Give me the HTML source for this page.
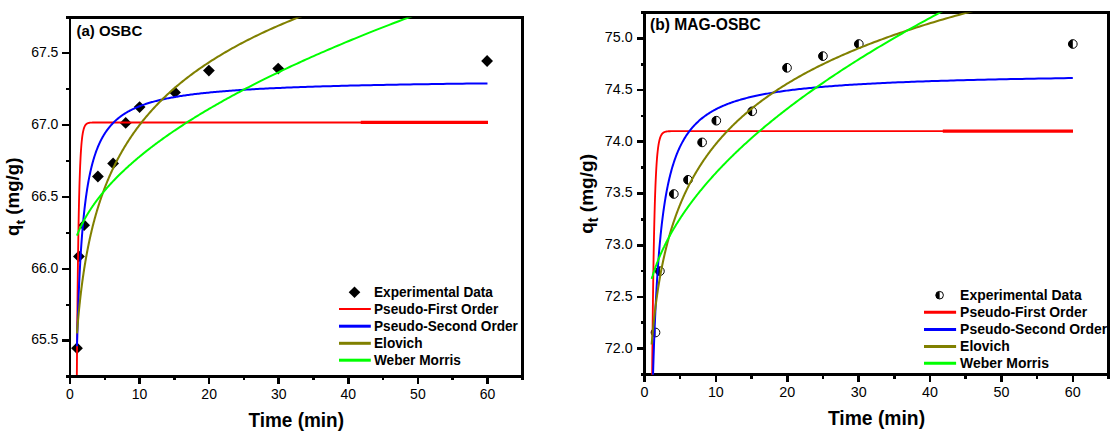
<!DOCTYPE html>
<html><head><meta charset="utf-8"><title>Kinetic models</title>
<style>
html,body{margin:0;padding:0;background:#fff;}
body{width:1119px;height:435px;overflow:hidden;font-family:"Liberation Sans",sans-serif;}
svg{display:block;}
svg text{font-family:"Liberation Sans",sans-serif;fill:#000;}
</style></head><body>
<svg width="1119" height="435" viewBox="0 0 1119 435">
<rect width="1119" height="435" fill="#fff"/>
<rect x="69" y="16" width="2" height="362" fill="#000"/>
<rect x="69" y="16" width="455" height="3" fill="#000"/>
<rect x="521" y="16" width="3" height="362" fill="#000"/>
<rect x="69" y="375" width="455" height="3" fill="#000"/>
<rect x="62" y="339" width="7" height="3" fill="#000"/>
<text transform="translate(58.40,344.48) scale(1,1.07)" font-size="14.0" text-anchor="end">65.5</text>
<rect x="62" y="268" width="7" height="2" fill="#000"/>
<text transform="translate(58.40,272.64) scale(1,1.07)" font-size="14.0" text-anchor="end">66.0</text>
<rect x="62" y="196" width="7" height="2" fill="#000"/>
<text transform="translate(58.40,200.80) scale(1,1.07)" font-size="14.0" text-anchor="end">66.5</text>
<rect x="62" y="124" width="7" height="2" fill="#000"/>
<text transform="translate(58.40,128.96) scale(1,1.07)" font-size="14.0" text-anchor="end">67.0</text>
<rect x="62" y="52" width="7" height="2" fill="#000"/>
<text transform="translate(58.40,57.12) scale(1,1.07)" font-size="14.0" text-anchor="end">67.5</text>
<rect x="66" y="304" width="3" height="2" fill="#000"/>
<rect x="66" y="232" width="3" height="2" fill="#000"/>
<rect x="66" y="160" width="3" height="2" fill="#000"/>
<rect x="66" y="88" width="3" height="2" fill="#000"/>
<rect x="66" y="16" width="3" height="3" fill="#000"/>
<rect x="66" y="375" width="3" height="3" fill="#000"/>
<rect x="69" y="378" width="2" height="6" fill="#000"/>
<text transform="translate(70.00,399.10) scale(1,1.07)" font-size="14.0" text-anchor="middle">0</text>
<rect x="138" y="378" width="3" height="6" fill="#000"/>
<text transform="translate(139.58,399.10) scale(1,1.07)" font-size="14.0" text-anchor="middle">10</text>
<rect x="208" y="378" width="2" height="6" fill="#000"/>
<text transform="translate(209.16,399.10) scale(1,1.07)" font-size="14.0" text-anchor="middle">20</text>
<rect x="277" y="378" width="3" height="6" fill="#000"/>
<text transform="translate(278.74,399.10) scale(1,1.07)" font-size="14.0" text-anchor="middle">30</text>
<rect x="347" y="378" width="3" height="6" fill="#000"/>
<text transform="translate(348.32,399.10) scale(1,1.07)" font-size="14.0" text-anchor="middle">40</text>
<rect x="417" y="378" width="2" height="6" fill="#000"/>
<text transform="translate(417.90,399.10) scale(1,1.07)" font-size="14.0" text-anchor="middle">50</text>
<rect x="486" y="378" width="3" height="6" fill="#000"/>
<text transform="translate(487.48,399.10) scale(1,1.07)" font-size="14.0" text-anchor="middle">60</text>
<rect x="104" y="378" width="2" height="2" fill="#000"/>
<rect x="173" y="378" width="3" height="2" fill="#000"/>
<rect x="243" y="378" width="2" height="2" fill="#000"/>
<rect x="312" y="378" width="3" height="2" fill="#000"/>
<rect x="382" y="378" width="2" height="2" fill="#000"/>
<rect x="451" y="378" width="3" height="2" fill="#000"/>
<rect x="521" y="378" width="3" height="2" fill="#000"/>
<clipPath id="clipa"><rect x="70.00" y="17.50" width="452.50" height="357.50"/></clipPath>
<clipPath id="lclipa"><rect x="70.00" y="17.50" width="451.00" height="357.50"/></clipPath>
<g clip-path="url(#clipa)">
<path d="M71.10,348.15 L77.00,342.25 L82.90,348.15 L77.00,354.05 Z" fill="#000"/>
<path d="M73.00,256.40 L78.90,250.50 L84.80,256.40 L78.90,262.30 Z" fill="#000"/>
<path d="M78.20,225.15 L84.10,219.25 L90.00,225.15 L84.10,231.05 Z" fill="#000"/>
<path d="M92.00,176.50 L97.90,170.60 L103.80,176.50 L97.90,182.40 Z" fill="#000"/>
<path d="M107.20,163.40 L113.10,157.50 L119.00,163.40 L113.10,169.30 Z" fill="#000"/>
<path d="M119.80,122.90 L125.70,117.00 L131.60,122.90 L125.70,128.80 Z" fill="#000"/>
<path d="M133.70,107.10 L139.60,101.20 L145.50,107.10 L139.60,113.00 Z" fill="#000"/>
<path d="M169.10,92.40 L175.00,86.50 L180.90,92.40 L175.00,98.30 Z" fill="#000"/>
<path d="M203.00,70.60 L208.90,64.70 L214.80,70.60 L208.90,76.50 Z" fill="#000"/>
<path d="M272.30,68.60 L278.20,62.70 L284.10,68.60 L278.20,74.50 Z" fill="#000"/>
<path d="M481.20,61.00 L487.10,55.10 L493.00,61.00 L487.10,66.90 Z" fill="#000"/>
<path d="M76.26,467.13 L76.33,455.23 L76.40,443.62 L76.46,432.29 L76.53,421.26 L76.60,410.50 L76.67,400.03 L76.74,389.83 L76.81,379.91 L76.88,370.25 L76.96,360.86 L77.03,351.74 L77.10,342.87 L77.18,334.26 L77.25,325.89 L77.33,317.78 L77.41,309.91 L77.49,302.27 L77.56,294.88 L77.64,287.71 L77.73,280.77 L77.81,274.05 L77.89,267.55 L77.97,261.27 L78.06,255.20 L78.14,249.33 L78.23,243.66 L78.31,238.19 L78.40,232.92 L78.49,227.83 L78.58,222.93 L78.67,218.20 L78.76,213.66 L78.86,209.28 L78.95,205.07 L79.04,201.03 L79.14,197.14 L79.24,193.40 L79.33,189.82 L79.43,186.39 L79.53,183.09 L79.63,179.93 L79.73,176.91 L79.84,174.02 L79.94,171.25 L80.04,168.60 L80.15,166.07 L80.26,163.66 L80.37,161.35 L80.48,159.16 L80.59,157.06 L80.70,155.07 L80.81,153.17 L80.92,151.36 L81.04,149.64 L81.16,148.01 L81.27,146.46 L81.39,144.99 L81.51,143.60 L81.63,142.27 L81.76,141.02 L81.88,139.84 L82.01,138.72 L82.13,137.66 L82.26,136.66 L82.39,135.72 L82.52,134.83 L82.65,133.99 L82.79,133.20 L82.92,132.46 L83.06,131.76 L83.20,131.10 L83.34,130.49 L83.48,129.91 L83.62,129.37 L83.76,128.86 L83.91,128.38 L84.05,127.94 L84.20,127.53 L84.35,127.14 L84.50,126.78 L84.66,126.44 L84.81,126.13 L84.97,125.84 L85.13,125.57 L85.29,125.31 L85.45,125.08 L85.61,124.86 L85.78,124.66 L85.94,124.48 L86.11,124.31 L86.28,124.15 L86.45,124.00 L86.63,123.87 L86.80,123.74 L86.98,123.63 L87.16,123.52 L87.34,123.43 L87.52,123.34 L87.71,123.26 L87.89,123.18 L88.08,123.12 L88.27,123.05 L88.47,123.00 L88.66,122.95 L88.86,122.90 L89.06,122.86 L89.26,122.82 L89.46,122.78 L89.67,122.75 L89.87,122.72 L90.08,122.70 L90.30,122.67 L90.51,122.65 L90.73,122.63 L90.95,122.61 L91.17,122.60 L91.39,122.58 L91.62,122.57 L91.84,122.56 L92.07,122.55 L92.31,122.54 L92.54,122.53 L92.78,122.53 L93.02,122.52 L93.26,122.51 L93.51,122.51 L93.76,122.51 L94.01,122.50 L94.26,122.50 L94.52,122.49 L94.78,122.49 L95.04,122.49 L95.30,122.49 L95.57,122.49 L95.84,122.48 L96.11,122.48 L96.39,122.48 L96.67,122.48 L96.95,122.48 L97.23,122.48 L97.52,122.48 L97.81,122.48 L98.10,122.48 L98.40,122.48 L98.70,122.48 L99.00,122.48 L99.31,122.48 L99.62,122.48 L99.93,122.47 L100.25,122.47 L100.57,122.47 L100.89,122.47 L101.22,122.47 L101.55,122.47 L101.88,122.47 L102.21,122.47 L102.55,122.47 L102.90,122.47 L103.25,122.47 L103.60,122.47 L103.95,122.47 L104.31,122.47 L104.67,122.47 L105.04,122.47 L105.41,122.47 L105.78,122.47 L106.16,122.47 L106.54,122.47 L106.93,122.47 L107.32,122.47 L107.71,122.47 L108.11,122.47 L108.51,122.47 L108.92,122.47 L109.33,122.47 L109.74,122.47 L110.16,122.47 L110.59,122.47 L111.01,122.47 L111.45,122.47 L111.88,122.47 L112.33,122.47 L112.77,122.47 L113.22,122.47 L113.68,122.47 L114.14,122.47 L114.61,122.47 L115.08,122.47 L115.55,122.47 L116.03,122.47 L116.52,122.47 L117.01,122.47 L117.51,122.47 L118.01,122.47 L118.52,122.47 L119.03,122.47 L119.55,122.47 L120.07,122.47 L120.60,122.47 L121.13,122.47 L121.67,122.47 L122.22,122.47 L122.77,122.47 L123.32,122.47 L123.89,122.47 L124.46,122.47 L125.03,122.47 L125.61,122.47 L126.20,122.47 L126.79,122.47 L127.39,122.47 L128.00,122.47 L128.61,122.47 L129.23,122.47 L129.85,122.47 L130.48,122.47 L131.12,122.47 L131.77,122.47 L132.42,122.47 L133.08,122.47 L133.74,122.47 L134.42,122.47 L135.10,122.47 L135.78,122.47 L136.48,122.47 L137.18,122.47 L137.89,122.47 L138.60,122.47 L139.33,122.47 L140.06,122.47 L140.80,122.47 L141.55,122.47 L142.30,122.47 L143.07,122.47 L143.84,122.47 L144.62,122.47 L145.40,122.47 L146.20,122.47 L147.00,122.47 L147.82,122.47 L148.64,122.47 L149.47,122.47 L150.31,122.47 L151.15,122.47 L152.01,122.47 L152.88,122.47 L153.75,122.47 L154.64,122.47 L155.53,122.47 L156.43,122.47 L157.34,122.47 L158.27,122.47 L159.20,122.47 L160.14,122.47 L161.09,122.47 L162.05,122.47 L163.02,122.47 L164.00,122.47 L165.00,122.47 L166.00,122.47 L167.01,122.47 L168.04,122.47 L169.07,122.47 L170.12,122.47 L171.17,122.47 L172.24,122.47 L173.32,122.47 L174.41,122.47 L175.51,122.47 L176.63,122.47 L177.75,122.47 L178.89,122.47 L180.04,122.47 L181.20,122.47 L182.37,122.47 L183.56,122.47 L184.76,122.47 L185.97,122.47 L187.19,122.47 L188.43,122.47 L189.68,122.47 L190.94,122.47 L192.22,122.47 L193.51,122.47 L194.81,122.47 L196.13,122.47 L197.46,122.47 L198.81,122.47 L200.17,122.47 L201.54,122.47 L202.93,122.47 L204.33,122.47 L205.75,122.47 L207.18,122.47 L208.63,122.47 L210.09,122.47 L211.57,122.47 L213.07,122.47 L214.58,122.47 L216.10,122.47 L217.64,122.47 L219.20,122.47 L220.78,122.47 L222.37,122.47 L223.98,122.47 L225.60,122.47 L227.25,122.47 L228.90,122.47 L230.58,122.47 L232.28,122.47 L233.99,122.47 L235.72,122.47 L237.47,122.47 L239.24,122.47 L241.02,122.47 L242.83,122.47 L244.65,122.47 L246.50,122.47 L248.36,122.47 L250.24,122.47 L252.14,122.47 L254.07,122.47 L256.01,122.47 L257.97,122.47 L259.96,122.47 L261.96,122.47 L263.99,122.47 L266.03,122.47 L268.10,122.47 L270.19,122.47 L272.31,122.47 L274.44,122.47 L276.60,122.47 L278.78,122.47 L280.98,122.47 L283.21,122.47 L285.46,122.47 L287.74,122.47 L290.03,122.47 L292.36,122.47 L294.70,122.47 L297.07,122.47 L299.47,122.47 L301.89,122.47 L304.34,122.47 L306.81,122.47 L309.31,122.47 L311.84,122.47 L314.39,122.47 L316.97,122.47 L319.58,122.47 L322.21,122.47 L324.87,122.47 L327.56,122.47 L330.28,122.47 L333.03,122.47 L335.81,122.47 L338.61,122.47 L341.45,122.47 L344.31,122.47 L347.21,122.47 L350.13,122.47 L353.09,122.47 L356.08,122.47 L359.10,122.47 L362.15,122.47 L365.23,122.47 L368.35,122.47 L371.50,122.47 L374.68,122.47 L377.89,122.47 L381.14,122.47 L384.43,122.47 L387.75,122.47 L391.10,122.47 L394.49,122.47 L397.91,122.47 L401.38,122.47 L404.87,122.47 L408.41,122.47 L411.98,122.47 L415.59,122.47 L419.24,122.47 L422.92,122.47 L426.65,122.47 L430.41,122.47 L434.22,122.47 L438.06,122.47 L441.94,122.47 L445.87,122.47 L449.84,122.47 L453.85,122.47 L457.90,122.47 L461.99,122.47 L466.13,122.47 L470.31,122.47 L474.54,122.47 L478.80,122.47 L483.12,122.47 L487.48,122.47" fill="none" stroke="#ff0000" stroke-width="1.85" stroke-linejoin="round"/>
<line x1="360.80" y1="122.47" x2="488.00" y2="122.47" stroke="#ff0000" stroke-width="3.2"/>
<path d="M76.96,346.30 L77.03,343.65 L77.10,341.02 L77.17,338.42 L77.25,335.85 L77.32,333.30 L77.40,330.78 L77.47,328.28 L77.55,325.80 L77.63,323.35 L77.71,320.92 L77.79,318.52 L77.87,316.13 L77.95,313.78 L78.03,311.44 L78.11,309.13 L78.20,306.84 L78.28,304.57 L78.37,302.32 L78.45,300.10 L78.54,297.90 L78.63,295.72 L78.72,293.56 L78.80,291.42 L78.90,289.30 L78.99,287.20 L79.08,285.12 L79.17,283.07 L79.27,281.03 L79.36,279.01 L79.46,277.02 L79.56,275.04 L79.65,273.08 L79.75,271.14 L79.85,269.22 L79.96,267.32 L80.06,265.44 L80.16,263.57 L80.27,261.73 L80.37,259.90 L80.48,258.09 L80.59,256.30 L80.70,254.52 L80.81,252.76 L80.92,251.02 L81.03,249.30 L81.14,247.59 L81.26,245.91 L81.37,244.23 L81.49,242.58 L81.61,240.94 L81.73,239.31 L81.85,237.70 L81.97,236.11 L82.09,234.54 L82.22,232.98 L82.34,231.43 L82.47,229.90 L82.60,228.39 L82.73,226.89 L82.86,225.40 L82.99,223.93 L83.12,222.47 L83.26,221.03 L83.40,219.60 L83.53,218.19 L83.67,216.79 L83.81,215.41 L83.96,214.03 L84.10,212.68 L84.24,211.33 L84.39,210.00 L84.54,208.68 L84.69,207.38 L84.84,206.08 L84.99,204.81 L85.15,203.54 L85.30,202.28 L85.46,201.04 L85.62,199.81 L85.78,198.60 L85.94,197.39 L86.11,196.20 L86.27,195.02 L86.44,193.85 L86.61,192.69 L86.78,191.54 L86.95,190.41 L87.13,189.28 L87.30,188.17 L87.48,187.07 L87.66,185.98 L87.84,184.90 L88.03,183.83 L88.21,182.77 L88.40,181.73 L88.59,180.69 L88.78,179.66 L88.97,178.65 L89.17,177.64 L89.37,176.64 L89.56,175.66 L89.77,174.68 L89.97,173.71 L90.17,172.76 L90.38,171.81 L90.59,170.87 L90.80,169.94 L91.02,169.02 L91.23,168.11 L91.45,167.21 L91.67,166.32 L91.90,165.43 L92.12,164.56 L92.35,163.69 L92.58,162.84 L92.81,161.99 L93.05,161.15 L93.28,160.32 L93.52,159.49 L93.76,158.68 L94.01,157.87 L94.26,157.07 L94.51,156.28 L94.76,155.50 L95.01,154.72 L95.27,153.96 L95.53,153.20 L95.79,152.45 L96.06,151.70 L96.33,150.96 L96.60,150.23 L96.87,149.51 L97.15,148.80 L97.43,148.09 L97.71,147.39 L97.99,146.70 L98.28,146.01 L98.57,145.33 L98.87,144.66 L99.16,143.99 L99.46,143.33 L99.77,142.68 L100.07,142.03 L100.38,141.39 L100.69,140.76 L101.01,140.13 L101.33,139.51 L101.65,138.90 L101.98,138.29 L102.31,137.69 L102.64,137.09 L102.97,136.50 L103.31,135.92 L103.66,135.34 L104.00,134.76 L104.35,134.20 L104.71,133.64 L105.06,133.08 L105.42,132.53 L105.79,131.99 L106.16,131.45 L106.53,130.92 L106.90,130.39 L107.28,129.86 L107.67,129.35 L108.06,128.84 L108.45,128.33 L108.84,127.83 L109.24,127.33 L109.65,126.84 L110.05,126.35 L110.47,125.87 L110.88,125.39 L111.30,124.92 L111.73,124.45 L112.16,123.99 L112.59,123.53 L113.03,123.08 L113.47,122.63 L113.92,122.18 L114.37,121.74 L114.83,121.31 L115.29,120.88 L115.75,120.45 L116.23,120.03 L116.70,119.61 L117.18,119.20 L117.67,118.79 L118.16,118.38 L118.65,117.98 L119.15,117.58 L119.66,117.19 L120.17,116.80 L120.69,116.41 L121.21,116.03 L121.73,115.65 L122.27,115.28 L122.80,114.91 L123.35,114.54 L123.90,114.18 L124.45,113.82 L125.01,113.47 L125.58,113.12 L126.15,112.77 L126.73,112.42 L127.31,112.08 L127.90,111.74 L128.50,111.41 L129.10,111.08 L129.71,110.75 L130.32,110.43 L130.94,110.10 L131.57,109.79 L132.20,109.47 L132.84,109.16 L133.49,108.85 L134.14,108.55 L134.80,108.25 L135.47,107.95 L136.14,107.65 L136.82,107.36 L137.51,107.07 L138.20,106.78 L138.90,106.50 L139.61,106.21 L140.33,105.94 L141.05,105.66 L141.78,105.39 L142.52,105.12 L143.27,104.85 L144.02,104.59 L144.78,104.32 L145.55,104.06 L146.33,103.81 L147.12,103.55 L147.91,103.30 L148.71,103.05 L149.52,102.81 L150.34,102.56 L151.17,102.32 L152.00,102.08 L152.84,101.85 L153.70,101.61 L154.56,101.38 L155.43,101.15 L156.31,100.92 L157.20,100.70 L158.09,100.48 L159.00,100.26 L159.91,100.04 L160.84,99.82 L161.77,99.61 L162.72,99.40 L163.67,99.19 L164.64,98.98 L165.61,98.77 L166.59,98.57 L167.59,98.37 L168.59,98.17 L169.61,97.97 L170.63,97.78 L171.67,97.59 L172.71,97.40 L173.77,97.21 L174.84,97.02 L175.91,96.83 L177.00,96.65 L178.10,96.47 L179.22,96.29 L180.34,96.11 L181.48,95.94 L182.62,95.76 L183.78,95.59 L184.95,95.42 L186.14,95.25 L187.33,95.08 L188.54,94.92 L189.76,94.75 L190.99,94.59 L192.23,94.43 L193.49,94.27 L194.76,94.11 L196.05,93.96 L197.34,93.80 L198.65,93.65 L199.98,93.50 L201.31,93.35 L202.66,93.20 L204.03,93.06 L205.41,92.91 L206.80,92.77 L208.21,92.63 L209.63,92.48 L211.07,92.35 L212.52,92.21 L213.98,92.07 L215.47,91.94 L216.96,91.80 L218.47,91.67 L220.00,91.54 L221.55,91.41 L223.10,91.28 L224.68,91.15 L226.27,91.03 L227.88,90.90 L229.50,90.78 L231.14,90.66 L232.80,90.54 L234.48,90.42 L236.17,90.30 L237.88,90.18 L239.61,90.07 L241.35,89.95 L243.11,89.84 L244.90,89.73 L246.69,89.62 L248.51,89.51 L250.35,89.40 L252.20,89.29 L254.08,89.18 L255.97,89.08 L257.89,88.97 L259.82,88.87 L261.77,88.77 L263.75,88.66 L265.74,88.56 L267.75,88.47 L269.79,88.37 L271.84,88.27 L273.92,88.17 L276.02,88.08 L278.14,87.98 L280.28,87.89 L282.44,87.80 L284.63,87.71 L286.84,87.61 L289.07,87.53 L291.32,87.44 L293.60,87.35 L295.90,87.26 L298.22,87.18 L300.57,87.09 L302.94,87.01 L305.34,86.92 L307.76,86.84 L310.21,86.76 L312.68,86.68 L315.17,86.60 L317.70,86.52 L320.25,86.44 L322.82,86.36 L325.42,86.28 L328.05,86.21 L330.70,86.13 L333.39,86.06 L336.10,85.98 L338.83,85.91 L341.60,85.84 L344.39,85.77 L347.22,85.70 L350.07,85.62 L352.95,85.56 L355.86,85.49 L358.80,85.42 L361.77,85.35 L364.78,85.28 L367.81,85.22 L370.87,85.15 L373.97,85.09 L377.10,85.02 L380.26,84.96 L383.45,84.90 L386.67,84.84 L389.93,84.77 L393.22,84.71 L396.55,84.65 L399.91,84.59 L403.30,84.53 L406.73,84.48 L410.20,84.42 L413.70,84.36 L417.23,84.30 L420.80,84.25 L424.41,84.19 L428.06,84.14 L431.74,84.08 L435.46,84.03 L439.23,83.98 L443.02,83.92 L446.86,83.87 L450.74,83.82 L454.66,83.77 L458.61,83.72 L462.61,83.67 L466.65,83.62 L470.73,83.57 L474.86,83.52 L479.02,83.47 L483.23,83.43 L487.48,83.38" fill="none" stroke="#0000ff" stroke-width="2.0" stroke-linejoin="round"/>
<path d="M76.96,333.40 L77.03,332.45 L77.10,331.51 L77.18,330.57 L77.25,329.63 L77.33,328.69 L77.41,327.75 L77.48,326.81 L77.56,325.87 L77.64,324.93 L77.72,323.98 L77.80,323.04 L77.88,322.10 L77.96,321.16 L78.05,320.22 L78.13,319.28 L78.22,318.34 L78.30,317.40 L78.39,316.46 L78.48,315.51 L78.57,314.57 L78.66,313.63 L78.75,312.69 L78.84,311.75 L78.93,310.81 L79.02,309.87 L79.12,308.93 L79.21,307.99 L79.31,307.04 L79.41,306.10 L79.50,305.16 L79.60,304.22 L79.70,303.28 L79.81,302.34 L79.91,301.40 L80.01,300.46 L80.12,299.52 L80.22,298.57 L80.33,297.63 L80.44,296.69 L80.55,295.75 L80.66,294.81 L80.77,293.87 L80.88,292.93 L80.99,291.99 L81.11,291.04 L81.23,290.10 L81.34,289.16 L81.46,288.22 L81.58,287.28 L81.70,286.34 L81.82,285.40 L81.95,284.46 L82.07,283.52 L82.20,282.57 L82.33,281.63 L82.46,280.69 L82.59,279.75 L82.72,278.81 L82.85,277.87 L82.98,276.93 L83.12,275.99 L83.26,275.05 L83.40,274.10 L83.54,273.16 L83.68,272.22 L83.82,271.28 L83.96,270.34 L84.11,269.40 L84.26,268.46 L84.41,267.52 L84.56,266.58 L84.71,265.63 L84.86,264.69 L85.02,263.75 L85.18,262.81 L85.33,261.87 L85.49,260.93 L85.66,259.99 L85.82,259.05 L85.99,258.10 L86.15,257.16 L86.32,256.22 L86.49,255.28 L86.66,254.34 L86.84,253.40 L87.01,252.46 L87.19,251.52 L87.37,250.58 L87.55,249.63 L87.74,248.69 L87.92,247.75 L88.11,246.81 L88.30,245.87 L88.49,244.93 L88.68,243.99 L88.88,243.05 L89.08,242.11 L89.28,241.16 L89.48,240.22 L89.68,239.28 L89.89,238.34 L90.09,237.40 L90.30,236.46 L90.52,235.52 L90.73,234.58 L90.95,233.64 L91.17,232.69 L91.39,231.75 L91.61,230.81 L91.84,229.87 L92.06,228.93 L92.30,227.99 L92.53,227.05 L92.76,226.11 L93.00,225.17 L93.24,224.22 L93.49,223.28 L93.73,222.34 L93.98,221.40 L94.23,220.46 L94.48,219.52 L94.74,218.58 L95.00,217.64 L95.26,216.69 L95.52,215.75 L95.79,214.81 L96.06,213.87 L96.33,212.93 L96.61,211.99 L96.88,211.05 L97.16,210.11 L97.45,209.17 L97.74,208.22 L98.03,207.28 L98.32,206.34 L98.61,205.40 L98.91,204.46 L99.22,203.52 L99.52,202.58 L99.83,201.64 L100.14,200.70 L100.46,199.75 L100.77,198.81 L101.10,197.87 L101.42,196.93 L101.75,195.99 L102.08,195.05 L102.42,194.11 L102.76,193.17 L103.10,192.23 L103.44,191.28 L103.79,190.34 L104.15,189.40 L104.50,188.46 L104.86,187.52 L105.23,186.58 L105.60,185.64 L105.97,184.70 L106.34,183.75 L106.72,182.81 L107.11,181.87 L107.50,180.93 L107.89,179.99 L108.28,179.05 L108.68,178.11 L109.09,177.17 L109.50,176.23 L109.91,175.28 L110.33,174.34 L110.75,173.40 L111.17,172.46 L111.60,171.52 L112.04,170.58 L112.48,169.64 L112.92,168.70 L113.37,167.76 L113.82,166.81 L114.28,165.87 L114.75,164.93 L115.21,163.99 L115.69,163.05 L116.16,162.11 L116.65,161.17 L117.13,160.23 L117.63,159.29 L118.12,158.34 L118.63,157.40 L119.13,156.46 L119.65,155.52 L120.17,154.58 L120.69,153.64 L121.22,152.70 L121.76,151.76 L122.30,150.82 L122.84,149.87 L123.40,148.93 L123.95,147.99 L124.52,147.05 L125.09,146.11 L125.66,145.17 L126.25,144.23 L126.83,143.29 L127.43,142.34 L128.03,141.40 L128.63,140.46 L129.25,139.52 L129.87,138.58 L130.49,137.64 L131.12,136.70 L131.76,135.76 L132.41,134.82 L133.06,133.87 L133.72,132.93 L134.39,131.99 L135.06,131.05 L135.74,130.11 L136.43,129.17 L137.12,128.23 L137.82,127.29 L138.53,126.35 L139.25,125.40 L139.97,124.46 L140.70,123.52 L141.44,122.58 L142.19,121.64 L142.94,120.70 L143.70,119.76 L144.47,118.82 L145.25,117.88 L146.04,116.93 L146.83,115.99 L147.64,115.05 L148.45,114.11 L149.27,113.17 L150.10,112.23 L150.93,111.29 L151.78,110.35 L152.63,109.41 L153.50,108.46 L154.37,107.52 L155.25,106.58 L156.14,105.64 L157.04,104.70 L157.95,103.76 L158.87,102.82 L159.80,101.88 L160.74,100.93 L161.69,99.99 L162.65,99.05 L163.62,98.11 L164.59,97.17 L165.58,96.23 L166.58,95.29 L167.59,94.35 L168.61,93.41 L169.64,92.46 L170.68,91.52 L171.74,90.58 L172.80,89.64 L173.87,88.70 L174.96,87.76 L176.06,86.82 L177.16,85.88 L178.28,84.94 L179.42,83.99 L180.56,83.05 L181.71,82.11 L182.88,81.17 L184.06,80.23 L185.25,79.29 L186.46,78.35 L187.68,77.41 L188.91,76.47 L190.15,75.52 L191.40,74.58 L192.67,73.64 L193.96,72.70 L195.25,71.76 L196.56,70.82 L197.88,69.88 L199.22,68.94 L200.57,67.99 L201.93,67.05 L203.31,66.11 L204.71,65.17 L206.11,64.23 L207.54,63.29 L208.97,62.35 L210.43,61.41 L211.89,60.47 L213.38,59.52 L214.88,58.58 L216.39,57.64 L217.92,56.70 L219.47,55.76 L221.03,54.82 L222.61,53.88 L224.20,52.94 L225.81,52.00 L227.44,51.05 L229.09,50.11 L230.75,49.17 L232.43,48.23 L234.13,47.29 L235.84,46.35 L237.58,45.41 L239.33,44.47 L241.10,43.53 L242.89,42.58 L244.69,41.64 L246.52,40.70 L248.36,39.76 L250.23,38.82 L252.11,37.88 L254.01,36.94 L255.94,36.00 L257.88,35.06 L259.84,34.11 L261.83,33.17 L263.83,32.23 L265.86,31.29 L267.91,30.35 L269.97,29.41 L272.06,28.47 L274.18,27.53 L276.31,26.58 L278.47,25.64 L280.65,24.70 L282.85,23.76 L285.07,22.82 L287.32,21.88 L289.59,20.94 L291.89,20.00 L294.20,19.06 L296.55,18.11 L298.92,17.17 L301.31,16.23 L303.73,15.29 L306.17,14.35 L308.64,13.41 L311.13,12.47 L313.65,11.53 L316.20,10.59 L318.77,9.64 L321.37,8.70 L324.00,7.76 L326.65,6.82 L329.33,5.88 L332.05,4.94 L334.78,4.00 L337.55,3.06 L340.35,2.12 L343.17,1.17 L346.03,0.23 L348.91,-0.71 L351.83,-1.65 L354.77,-2.59 L357.75,-3.53 L360.76,-4.47 L363.80,-5.41 L366.87,-6.36 L369.97,-7.30 L373.10,-8.24 L376.27,-9.18 L379.47,-10.12 L382.71,-11.06 L385.98,-12.00 L389.28,-12.94 L392.62,-13.88 L395.99,-14.83 L399.39,-15.77 L402.84,-16.71 L406.32,-17.65 L409.83,-18.59 L413.38,-19.53 L416.97,-20.47 L420.60,-21.41 L424.26,-22.35 L427.96,-23.30 L431.71,-24.24 L435.49,-25.18 L439.31,-26.12 L443.17,-27.06 L447.07,-28.00 L451.01,-28.94 L454.99,-29.88 L459.01,-30.82 L463.08,-31.77 L467.19,-32.71 L471.34,-33.65 L475.53,-34.59 L479.77,-35.53 L484.05,-36.47 L488.38,-37.41 L492.75,-38.35 L497.17,-39.29 L501.64,-40.24 L506.15,-41.18 L510.71,-42.12 L515.31,-43.06" fill="none" stroke="#808000" stroke-width="2.05" stroke-linejoin="round"/>
<path d="M76.96,235.55 L77.03,235.36 L77.10,235.17 L77.18,234.98 L77.25,234.78 L77.33,234.59 L77.41,234.39 L77.48,234.20 L77.56,234.00 L77.64,233.80 L77.72,233.60 L77.80,233.40 L77.88,233.20 L77.96,233.00 L78.05,232.79 L78.13,232.59 L78.22,232.38 L78.30,232.18 L78.39,231.97 L78.48,231.76 L78.57,231.55 L78.66,231.34 L78.75,231.13 L78.84,230.91 L78.93,230.70 L79.02,230.48 L79.12,230.27 L79.21,230.05 L79.31,229.83 L79.41,229.61 L79.50,229.39 L79.60,229.17 L79.70,228.94 L79.81,228.72 L79.91,228.49 L80.01,228.27 L80.12,228.04 L80.22,227.81 L80.33,227.58 L80.44,227.35 L80.55,227.11 L80.66,226.88 L80.77,226.64 L80.88,226.41 L80.99,226.17 L81.11,225.93 L81.23,225.69 L81.34,225.45 L81.46,225.21 L81.58,224.96 L81.70,224.72 L81.82,224.47 L81.95,224.22 L82.07,223.97 L82.20,223.72 L82.33,223.47 L82.46,223.22 L82.59,222.96 L82.72,222.71 L82.85,222.45 L82.98,222.19 L83.12,221.93 L83.26,221.67 L83.40,221.41 L83.54,221.14 L83.68,220.88 L83.82,220.61 L83.96,220.34 L84.11,220.07 L84.26,219.80 L84.41,219.53 L84.56,219.26 L84.71,218.98 L84.86,218.71 L85.02,218.43 L85.18,218.15 L85.33,217.87 L85.49,217.58 L85.66,217.30 L85.82,217.02 L85.99,216.73 L86.15,216.44 L86.32,216.15 L86.49,215.86 L86.66,215.57 L86.84,215.27 L87.01,214.98 L87.19,214.68 L87.37,214.38 L87.55,214.08 L87.74,213.78 L87.92,213.47 L88.11,213.17 L88.30,212.86 L88.49,212.55 L88.68,212.24 L88.88,211.93 L89.08,211.62 L89.28,211.30 L89.48,210.99 L89.68,210.67 L89.89,210.35 L90.09,210.03 L90.30,209.70 L90.52,209.38 L90.73,209.05 L90.95,208.72 L91.17,208.39 L91.39,208.06 L91.61,207.73 L91.84,207.39 L92.06,207.06 L92.30,206.72 L92.53,206.38 L92.76,206.03 L93.00,205.69 L93.24,205.34 L93.49,205.00 L93.73,204.65 L93.98,204.30 L94.23,203.94 L94.48,203.59 L94.74,203.23 L95.00,202.87 L95.26,202.51 L95.52,202.15 L95.79,201.79 L96.06,201.42 L96.33,201.05 L96.61,200.68 L96.88,200.31 L97.16,199.94 L97.45,199.56 L97.74,199.18 L98.03,198.80 L98.32,198.42 L98.61,198.04 L98.91,197.65 L99.22,197.26 L99.52,196.87 L99.83,196.48 L100.14,196.09 L100.46,195.69 L100.77,195.29 L101.10,194.89 L101.42,194.49 L101.75,194.09 L102.08,193.68 L102.42,193.27 L102.76,192.86 L103.10,192.45 L103.44,192.03 L103.79,191.62 L104.15,191.20 L104.50,190.78 L104.86,190.35 L105.23,189.93 L105.60,189.50 L105.97,189.07 L106.34,188.64 L106.72,188.20 L107.11,187.76 L107.50,187.33 L107.89,186.88 L108.28,186.44 L108.68,185.99 L109.09,185.55 L109.50,185.09 L109.91,184.64 L110.33,184.19 L110.75,183.73 L111.17,183.27 L111.60,182.80 L112.04,182.34 L112.48,181.87 L112.92,181.40 L113.37,180.93 L113.82,180.45 L114.28,179.98 L114.75,179.50 L115.21,179.02 L115.69,178.53 L116.16,178.04 L116.65,177.55 L117.13,177.06 L117.63,176.57 L118.12,176.07 L118.63,175.57 L119.13,175.06 L119.65,174.56 L120.17,174.05 L120.69,173.54 L121.22,173.03 L121.76,172.51 L122.30,171.99 L122.84,171.47 L123.40,170.95 L123.95,170.42 L124.52,169.89 L125.09,169.36 L125.66,168.82 L126.25,168.28 L126.83,167.74 L127.43,167.20 L128.03,166.65 L128.63,166.10 L129.25,165.55 L129.87,165.00 L130.49,164.44 L131.12,163.88 L131.76,163.31 L132.41,162.75 L133.06,162.18 L133.72,161.60 L134.39,161.03 L135.06,160.45 L135.74,159.87 L136.43,159.28 L137.12,158.70 L137.82,158.11 L138.53,157.51 L139.25,156.91 L139.97,156.31 L140.70,155.71 L141.44,155.11 L142.19,154.50 L142.94,153.88 L143.70,153.27 L144.47,152.65 L145.25,152.03 L146.04,151.40 L146.83,150.77 L147.64,150.14 L148.45,149.50 L149.27,148.87 L150.10,148.22 L150.93,147.58 L151.78,146.93 L152.63,146.28 L153.50,145.62 L154.37,144.96 L155.25,144.30 L156.14,143.63 L157.04,142.97 L157.95,142.29 L158.87,141.62 L159.80,140.94 L160.74,140.25 L161.69,139.57 L162.65,138.88 L163.62,138.18 L164.59,137.48 L165.58,136.78 L166.58,136.08 L167.59,135.37 L168.61,134.66 L169.64,133.94 L170.68,133.22 L171.74,132.50 L172.80,131.77 L173.87,131.04 L174.96,130.30 L176.06,129.56 L177.16,128.82 L178.28,128.08 L179.42,127.33 L180.56,126.57 L181.71,125.81 L182.88,125.05 L184.06,124.28 L185.25,123.51 L186.46,122.74 L187.68,121.96 L188.91,121.18 L190.15,120.39 L191.40,119.60 L192.67,118.81 L193.96,118.01 L195.25,117.21 L196.56,116.40 L197.88,115.59 L199.22,114.77 L200.57,113.95 L201.93,113.13 L203.31,112.30 L204.71,111.47 L206.11,110.63 L207.54,109.79 L208.97,108.94 L210.43,108.09 L211.89,107.24 L213.38,106.38 L214.88,105.52 L216.39,104.65 L217.92,103.78 L219.47,102.90 L221.03,102.02 L222.61,101.13 L224.20,100.24 L225.81,99.35 L227.44,98.45 L229.09,97.54 L230.75,96.63 L232.43,95.72 L234.13,94.80 L235.84,93.87 L237.58,92.95 L239.33,92.01 L241.10,91.07 L242.89,90.13 L244.69,89.18 L246.52,88.23 L248.36,87.27 L250.23,86.31 L252.11,85.34 L254.01,84.37 L255.94,83.39 L257.88,82.41 L259.84,81.42 L261.83,80.42 L263.83,79.42 L265.86,78.42 L267.91,77.41 L269.97,76.40 L272.06,75.38 L274.18,74.35 L276.31,73.32 L278.47,72.29 L280.65,71.24 L282.85,70.20 L285.07,69.15 L287.32,68.09 L289.59,67.03 L291.89,65.96 L294.20,64.88 L296.55,63.80 L298.92,62.72 L301.31,61.63 L303.73,60.53 L306.17,59.43 L308.64,58.32 L311.13,57.21 L313.65,56.09 L316.20,54.96 L318.77,53.83 L321.37,52.69 L324.00,51.55 L326.65,50.40 L329.33,49.24 L332.05,48.08 L334.78,46.91 L337.55,45.74 L340.35,44.56 L343.17,43.38 L346.03,42.18 L348.91,40.99 L351.83,39.78 L354.77,38.57 L357.75,37.35 L360.76,36.13 L363.80,34.90 L366.87,33.67 L369.97,32.42 L373.10,31.17 L376.27,29.92 L379.47,28.66 L382.71,27.39 L385.98,26.11 L389.28,24.83 L392.62,23.54 L395.99,22.25 L399.39,20.95 L402.84,19.64 L406.32,18.32 L409.83,17.00 L413.38,15.67 L416.97,14.33 L420.60,12.99 L424.26,11.64 L427.96,10.28 L431.71,8.92 L435.49,7.55 L439.31,6.17 L443.17,4.78 L447.07,3.39 L451.01,1.99 L454.99,0.58 L459.01,-0.83 L463.08,-2.26 L467.19,-3.69 L471.34,-5.12 L475.53,-6.57 L479.77,-8.02 L484.05,-9.48 L488.38,-10.95 L492.75,-12.42 L497.17,-13.90 L501.64,-15.40 L506.15,-16.89 L510.71,-18.40 L515.31,-19.91" fill="none" stroke="#00ff00" stroke-width="2.0" stroke-linejoin="round"/>
</g>
<g clip-path="url(#lclipa)">
<path d="M348.70,292.20 L354.50,286.40 L360.30,292.20 L354.50,298.00 Z" fill="#000"/>
<text transform="translate(374.00,296.80) scale(1,1.06)" font-size="13.65" font-weight="bold">Experimental Data</text>
<line x1="339" y1="309.00" x2="370.8" y2="309.00" stroke="#ff0000" stroke-width="2"/>
<text transform="translate(374.00,313.60) scale(1,1.06)" font-size="13.65" font-weight="bold">Pseudo-First Order</text>
<line x1="339" y1="326.20" x2="370.8" y2="326.20" stroke="#0000ff" stroke-width="3"/>
<text transform="translate(374.00,330.80) scale(1,1.06)" font-size="13.65" font-weight="bold">Pseudo-Second Order</text>
<line x1="339" y1="343.30" x2="370.8" y2="343.30" stroke="#808000" stroke-width="3"/>
<text transform="translate(374.00,347.90) scale(1,1.06)" font-size="13.65" font-weight="bold">Elovich</text>
<line x1="339" y1="360.20" x2="370.8" y2="360.20" stroke="#00ff00" stroke-width="3"/>
<text transform="translate(374.00,364.80) scale(1,1.06)" font-size="13.65" font-weight="bold">Weber Morris</text>
</g>
<text transform="translate(76.40,35.80) scale(1,1.03)" font-size="15" font-weight="bold">(a) OSBC</text>
<text transform="translate(296.25,427.00) scale(1,1.04)" font-size="18.95" font-weight="bold" text-anchor="middle">Time (min)</text>
<text transform="translate(19.4,196.75) rotate(-90) scale(1,0.96)" font-size="18.7" font-weight="bold" text-anchor="middle">q<tspan font-size="14.02" dy="5.8">t</tspan><tspan dy="-5.8"> (mg/g)</tspan></text>
<rect x="643" y="11" width="3" height="365" fill="#000"/>
<rect x="643" y="11" width="467" height="3" fill="#000"/>
<rect x="1107" y="11" width="3" height="365" fill="#000"/>
<rect x="643" y="373" width="467" height="3" fill="#000"/>
<rect x="637" y="347" width="6" height="3" fill="#000"/>
<text transform="translate(632.60,352.54) scale(1,1.05)" font-size="14.3" text-anchor="end">72.0</text>
<rect x="637" y="296" width="6" height="2" fill="#000"/>
<text transform="translate(632.60,300.83) scale(1,1.05)" font-size="14.3" text-anchor="end">72.5</text>
<rect x="637" y="244" width="6" height="3" fill="#000"/>
<text transform="translate(632.60,249.11) scale(1,1.05)" font-size="14.3" text-anchor="end">73.0</text>
<rect x="637" y="192" width="6" height="3" fill="#000"/>
<text transform="translate(632.60,197.40) scale(1,1.05)" font-size="14.3" text-anchor="end">73.5</text>
<rect x="637" y="140" width="6" height="3" fill="#000"/>
<text transform="translate(632.60,145.69) scale(1,1.05)" font-size="14.3" text-anchor="end">74.0</text>
<rect x="637" y="89" width="6" height="2" fill="#000"/>
<text transform="translate(632.60,93.97) scale(1,1.05)" font-size="14.3" text-anchor="end">74.5</text>
<rect x="637" y="37" width="6" height="3" fill="#000"/>
<text transform="translate(632.60,42.26) scale(1,1.05)" font-size="14.3" text-anchor="end">75.0</text>
<rect x="641" y="321" width="2" height="3" fill="#000"/>
<rect x="641" y="270" width="2" height="2" fill="#000"/>
<rect x="641" y="218" width="2" height="3" fill="#000"/>
<rect x="641" y="166" width="2" height="3" fill="#000"/>
<rect x="641" y="115" width="2" height="2" fill="#000"/>
<rect x="641" y="63" width="2" height="3" fill="#000"/>
<rect x="641" y="11" width="2" height="3" fill="#000"/>
<rect x="641" y="373" width="2" height="3" fill="#000"/>
<rect x="643" y="376" width="3" height="6" fill="#000"/>
<text transform="translate(644.50,396.60) scale(1,1.05)" font-size="14.3" text-anchor="middle">0</text>
<rect x="715" y="376" width="2" height="6" fill="#000"/>
<text transform="translate(715.88,396.60) scale(1,1.05)" font-size="14.3" text-anchor="middle">10</text>
<rect x="786" y="376" width="3" height="6" fill="#000"/>
<text transform="translate(787.27,396.60) scale(1,1.05)" font-size="14.3" text-anchor="middle">20</text>
<rect x="857" y="376" width="3" height="6" fill="#000"/>
<text transform="translate(858.65,396.60) scale(1,1.05)" font-size="14.3" text-anchor="middle">30</text>
<rect x="929" y="376" width="2" height="6" fill="#000"/>
<text transform="translate(930.04,396.60) scale(1,1.05)" font-size="14.3" text-anchor="middle">40</text>
<rect x="1000" y="376" width="3" height="6" fill="#000"/>
<text transform="translate(1001.42,396.60) scale(1,1.05)" font-size="14.3" text-anchor="middle">50</text>
<rect x="1072" y="376" width="2" height="6" fill="#000"/>
<text transform="translate(1072.81,396.60) scale(1,1.05)" font-size="14.3" text-anchor="middle">60</text>
<rect x="679" y="376" width="2" height="3" fill="#000"/>
<rect x="750" y="376" width="3" height="3" fill="#000"/>
<rect x="822" y="376" width="2" height="3" fill="#000"/>
<rect x="893" y="376" width="3" height="3" fill="#000"/>
<rect x="964" y="376" width="3" height="3" fill="#000"/>
<rect x="1036" y="376" width="2" height="3" fill="#000"/>
<rect x="1107" y="376" width="3" height="3" fill="#000"/>
<clipPath id="clipb"><rect x="644.50" y="12.50" width="464.00" height="362.30"/></clipPath>
<clipPath id="lclipb"><rect x="644.50" y="12.50" width="462.50" height="362.30"/></clipPath>
<g clip-path="url(#clipb)">
<circle cx="655.50" cy="332.50" r="4.35" fill="#fff" stroke="#000" stroke-width="1.0"/><path d="M655.50,328.15 A4.35,4.35 0 0 0 655.50,336.85 Z" fill="#000"/>
<circle cx="659.90" cy="271.20" r="4.35" fill="#fff" stroke="#000" stroke-width="1.0"/><path d="M659.90,266.85 A4.35,4.35 0 0 0 659.90,275.55 Z" fill="#000"/>
<circle cx="673.80" cy="194.00" r="4.35" fill="#fff" stroke="#000" stroke-width="1.0"/><path d="M673.80,189.65 A4.35,4.35 0 0 0 673.80,198.35 Z" fill="#000"/>
<circle cx="688.00" cy="179.80" r="4.35" fill="#fff" stroke="#000" stroke-width="1.0"/><path d="M688.00,175.45 A4.35,4.35 0 0 0 688.00,184.15 Z" fill="#000"/>
<circle cx="702.10" cy="142.40" r="4.35" fill="#fff" stroke="#000" stroke-width="1.0"/><path d="M702.10,138.05 A4.35,4.35 0 0 0 702.10,146.75 Z" fill="#000"/>
<circle cx="716.30" cy="120.70" r="4.35" fill="#fff" stroke="#000" stroke-width="1.0"/><path d="M716.30,116.35 A4.35,4.35 0 0 0 716.30,125.05 Z" fill="#000"/>
<circle cx="752.20" cy="111.30" r="4.35" fill="#fff" stroke="#000" stroke-width="1.0"/><path d="M752.20,106.95 A4.35,4.35 0 0 0 752.20,115.65 Z" fill="#000"/>
<circle cx="787.00" cy="67.80" r="4.35" fill="#fff" stroke="#000" stroke-width="1.0"/><path d="M787.00,63.45 A4.35,4.35 0 0 0 787.00,72.15 Z" fill="#000"/>
<circle cx="822.90" cy="56.10" r="4.35" fill="#fff" stroke="#000" stroke-width="1.0"/><path d="M822.90,51.75 A4.35,4.35 0 0 0 822.90,60.45 Z" fill="#000"/>
<circle cx="858.80" cy="44.00" r="4.35" fill="#fff" stroke="#000" stroke-width="1.0"/><path d="M858.80,39.65 A4.35,4.35 0 0 0 858.80,48.35 Z" fill="#000"/>
<circle cx="1072.80" cy="44.00" r="4.35" fill="#fff" stroke="#000" stroke-width="1.0"/><path d="M1072.80,39.65 A4.35,4.35 0 0 0 1072.80,48.35 Z" fill="#000"/>
<path d="M650.92,553.70 L650.99,540.97 L651.06,528.49 L651.13,516.27 L651.20,504.30 L651.27,492.59 L651.34,481.12 L651.41,469.90 L651.49,458.93 L651.56,448.21 L651.64,437.73 L651.71,427.48 L651.79,417.48 L651.86,407.72 L651.94,398.19 L652.02,388.89 L652.10,379.83 L652.18,370.99 L652.26,362.38 L652.34,353.99 L652.43,345.82 L652.51,337.87 L652.59,330.14 L652.68,322.61 L652.77,315.30 L652.85,308.19 L652.94,301.29 L653.03,294.59 L653.12,288.08 L653.21,281.77 L653.30,275.65 L653.40,269.72 L653.49,263.97 L653.58,258.41 L653.68,253.02 L653.78,247.81 L653.88,242.77 L653.97,237.89 L654.07,233.18 L654.18,228.64 L654.28,224.25 L654.38,220.01 L654.49,215.93 L654.59,211.99 L654.70,208.20 L654.80,204.55 L654.91,201.03 L655.02,197.65 L655.13,194.40 L655.25,191.28 L655.36,188.28 L655.47,185.40 L655.59,182.63 L655.71,179.99 L655.83,177.45 L655.95,175.02 L656.07,172.69 L656.19,170.46 L656.31,168.33 L656.44,166.30 L656.56,164.36 L656.69,162.50 L656.82,160.73 L656.95,159.05 L657.08,157.44 L657.21,155.91 L657.35,154.46 L657.48,153.07 L657.62,151.76 L657.76,150.51 L657.90,149.32 L658.04,148.20 L658.18,147.13 L658.33,146.12 L658.47,145.17 L658.62,144.27 L658.77,143.41 L658.92,142.61 L659.07,141.84 L659.23,141.13 L659.38,140.45 L659.54,139.81 L659.70,139.21 L659.86,138.65 L660.02,138.12 L660.18,137.62 L660.35,137.15 L660.52,136.72 L660.68,136.31 L660.86,135.92 L661.03,135.56 L661.20,135.23 L661.38,134.92 L661.56,134.62 L661.74,134.35 L661.92,134.10 L662.10,133.86 L662.29,133.64 L662.48,133.44 L662.67,133.25 L662.86,133.07 L663.05,132.91 L663.25,132.76 L663.45,132.62 L663.65,132.49 L663.85,132.38 L664.05,132.27 L664.26,132.17 L664.47,132.07 L664.68,131.99 L664.89,131.91 L665.11,131.84 L665.32,131.77 L665.54,131.71 L665.76,131.66 L665.99,131.61 L666.22,131.56 L666.45,131.52 L666.68,131.48 L666.91,131.44 L667.15,131.41 L667.39,131.38 L667.63,131.36 L667.87,131.33 L668.12,131.31 L668.37,131.29 L668.62,131.28 L668.87,131.26 L669.13,131.25 L669.39,131.23 L669.65,131.22 L669.92,131.21 L670.19,131.20 L670.46,131.20 L670.73,131.19 L671.01,131.18 L671.29,131.18 L671.57,131.17 L671.86,131.17 L672.15,131.16 L672.44,131.16 L672.73,131.16 L673.03,131.15 L673.33,131.15 L673.64,131.15 L673.95,131.15 L674.26,131.14 L674.57,131.14 L674.89,131.14 L675.21,131.14 L675.53,131.14 L675.86,131.14 L676.19,131.14 L676.53,131.14 L676.86,131.14 L677.20,131.14 L677.55,131.14 L677.90,131.13 L678.25,131.13 L678.61,131.13 L678.97,131.13 L679.33,131.13 L679.70,131.13 L680.07,131.13 L680.45,131.13 L680.83,131.13 L681.21,131.13 L681.60,131.13 L681.99,131.13 L682.38,131.13 L682.78,131.13 L683.19,131.13 L683.60,131.13 L684.01,131.13 L684.43,131.13 L684.85,131.13 L685.27,131.13 L685.70,131.13 L686.14,131.13 L686.58,131.13 L687.02,131.13 L687.47,131.13 L687.92,131.13 L688.38,131.13 L688.85,131.13 L689.31,131.13 L689.79,131.13 L690.26,131.13 L690.75,131.13 L691.24,131.13 L691.73,131.13 L692.23,131.13 L692.73,131.13 L693.24,131.13 L693.75,131.13 L694.27,131.13 L694.80,131.13 L695.33,131.13 L695.87,131.13 L696.41,131.13 L696.96,131.13 L697.51,131.13 L698.07,131.13 L698.64,131.13 L699.21,131.13 L699.78,131.13 L700.37,131.13 L700.96,131.13 L701.55,131.13 L702.16,131.13 L702.76,131.13 L703.38,131.13 L704.00,131.13 L704.63,131.13 L705.26,131.13 L705.90,131.13 L706.55,131.13 L707.21,131.13 L707.87,131.13 L708.54,131.13 L709.21,131.13 L709.90,131.13 L710.59,131.13 L711.28,131.13 L711.99,131.13 L712.70,131.13 L713.42,131.13 L714.15,131.13 L714.88,131.13 L715.63,131.13 L716.38,131.13 L717.14,131.13 L717.90,131.13 L718.68,131.13 L719.46,131.13 L720.25,131.13 L721.05,131.13 L721.86,131.13 L722.68,131.13 L723.50,131.13 L724.34,131.13 L725.18,131.13 L726.03,131.13 L726.89,131.13 L727.76,131.13 L728.64,131.13 L729.53,131.13 L730.42,131.13 L731.33,131.13 L732.25,131.13 L733.17,131.13 L734.11,131.13 L735.05,131.13 L736.01,131.13 L736.98,131.13 L737.95,131.13 L738.94,131.13 L739.94,131.13 L740.94,131.13 L741.96,131.13 L742.99,131.13 L744.03,131.13 L745.08,131.13 L746.14,131.13 L747.21,131.13 L748.30,131.13 L749.39,131.13 L750.50,131.13 L751.62,131.13 L752.75,131.13 L753.89,131.13 L755.05,131.13 L756.21,131.13 L757.39,131.13 L758.58,131.13 L759.79,131.13 L761.01,131.13 L762.24,131.13 L763.48,131.13 L764.73,131.13 L766.00,131.13 L767.29,131.13 L768.58,131.13 L769.89,131.13 L771.21,131.13 L772.55,131.13 L773.90,131.13 L775.27,131.13 L776.65,131.13 L778.04,131.13 L779.45,131.13 L780.88,131.13 L782.32,131.13 L783.77,131.13 L785.24,131.13 L786.73,131.13 L788.23,131.13 L789.75,131.13 L791.28,131.13 L792.83,131.13 L794.39,131.13 L795.97,131.13 L797.57,131.13 L799.19,131.13 L800.82,131.13 L802.47,131.13 L804.14,131.13 L805.82,131.13 L807.53,131.13 L809.25,131.13 L810.99,131.13 L812.74,131.13 L814.52,131.13 L816.31,131.13 L818.13,131.13 L819.96,131.13 L821.81,131.13 L823.68,131.13 L825.57,131.13 L827.49,131.13 L829.42,131.13 L831.37,131.13 L833.34,131.13 L835.33,131.13 L837.35,131.13 L839.38,131.13 L841.44,131.13 L843.52,131.13 L845.62,131.13 L847.74,131.13 L849.89,131.13 L852.06,131.13 L854.25,131.13 L856.46,131.13 L858.70,131.13 L860.96,131.13 L863.24,131.13 L865.55,131.13 L867.88,131.13 L870.24,131.13 L872.62,131.13 L875.03,131.13 L877.47,131.13 L879.92,131.13 L882.41,131.13 L884.92,131.13 L887.46,131.13 L890.02,131.13 L892.61,131.13 L895.23,131.13 L897.88,131.13 L900.55,131.13 L903.26,131.13 L905.99,131.13 L908.75,131.13 L911.54,131.13 L914.35,131.13 L917.20,131.13 L920.08,131.13 L922.99,131.13 L925.93,131.13 L928.90,131.13 L931.90,131.13 L934.93,131.13 L938.00,131.13 L941.10,131.13 L944.23,131.13 L947.39,131.13 L950.59,131.13 L953.82,131.13 L957.08,131.13 L960.38,131.13 L963.72,131.13 L967.09,131.13 L970.49,131.13 L973.93,131.13 L977.41,131.13 L980.92,131.13 L984.47,131.13 L988.06,131.13 L991.69,131.13 L995.35,131.13 L999.05,131.13 L1002.80,131.13 L1006.58,131.13 L1010.40,131.13 L1014.26,131.13 L1018.16,131.13 L1022.11,131.13 L1026.09,131.13 L1030.12,131.13 L1034.19,131.13 L1038.30,131.13 L1042.46,131.13 L1046.66,131.13 L1050.91,131.13 L1055.19,131.13 L1059.53,131.13 L1063.91,131.13 L1068.34,131.13 L1072.81,131.13" fill="none" stroke="#ff0000" stroke-width="1.85" stroke-linejoin="round"/>
<line x1="942.80" y1="131.13" x2="1073.00" y2="131.13" stroke="#ff0000" stroke-width="3.2"/>
<path d="M650.92,468.87 L650.99,464.94 L651.06,461.04 L651.13,457.17 L651.20,453.35 L651.27,449.56 L651.34,445.80 L651.41,442.08 L651.49,438.40 L651.56,434.75 L651.64,431.13 L651.71,427.55 L651.79,424.01 L651.86,420.49 L651.94,417.01 L652.02,413.57 L652.10,410.15 L652.18,406.77 L652.26,403.43 L652.34,400.11 L652.43,396.82 L652.51,393.57 L652.59,390.35 L652.68,387.16 L652.77,384.00 L652.85,380.86 L652.94,377.76 L653.03,374.69 L653.12,371.65 L653.21,368.64 L653.30,365.66 L653.40,362.70 L653.49,359.78 L653.58,356.88 L653.68,354.01 L653.78,351.17 L653.88,348.36 L653.97,345.57 L654.07,342.81 L654.18,340.08 L654.28,337.37 L654.38,334.69 L654.49,332.04 L654.59,329.41 L654.70,326.81 L654.80,324.23 L654.91,321.68 L655.02,319.16 L655.13,316.65 L655.25,314.18 L655.36,311.72 L655.47,309.29 L655.59,306.89 L655.71,304.51 L655.83,302.15 L655.95,299.81 L656.07,297.50 L656.19,295.21 L656.31,292.94 L656.44,290.70 L656.56,288.48 L656.69,286.28 L656.82,284.10 L656.95,281.94 L657.08,279.80 L657.21,277.69 L657.35,275.60 L657.48,273.52 L657.62,271.47 L657.76,269.44 L657.90,267.43 L658.04,265.43 L658.18,263.46 L658.33,261.51 L658.47,259.57 L658.62,257.66 L658.77,255.76 L658.92,253.89 L659.07,252.03 L659.23,250.19 L659.38,248.37 L659.54,246.57 L659.70,244.78 L659.86,243.02 L660.02,241.27 L660.18,239.53 L660.35,237.82 L660.52,236.12 L660.68,234.44 L660.86,232.78 L661.03,231.13 L661.20,229.50 L661.38,227.89 L661.56,226.29 L661.74,224.71 L661.92,223.14 L662.10,221.59 L662.29,220.06 L662.48,218.54 L662.67,217.03 L662.86,215.54 L663.05,214.07 L663.25,212.61 L663.45,211.17 L663.65,209.74 L663.85,208.32 L664.05,206.92 L664.26,205.53 L664.47,204.16 L664.68,202.80 L664.89,201.45 L665.11,200.12 L665.32,198.80 L665.54,197.50 L665.76,196.21 L665.99,194.93 L666.22,193.66 L666.45,192.41 L666.68,191.17 L666.91,189.94 L667.15,188.72 L667.39,187.52 L667.63,186.33 L667.87,185.15 L668.12,183.98 L668.37,182.83 L668.62,181.68 L668.87,180.55 L669.13,179.43 L669.39,178.32 L669.65,177.23 L669.92,176.14 L670.19,175.06 L670.46,174.00 L670.73,172.94 L671.01,171.90 L671.29,170.87 L671.57,169.85 L671.86,168.84 L672.15,167.83 L672.44,166.84 L672.73,165.86 L673.03,164.89 L673.33,163.93 L673.64,162.98 L673.95,162.04 L674.26,161.11 L674.57,160.18 L674.89,159.27 L675.21,158.37 L675.53,157.47 L675.86,156.59 L676.19,155.71 L676.53,154.84 L676.86,153.98 L677.20,153.14 L677.55,152.29 L677.90,151.46 L678.25,150.64 L678.61,149.82 L678.97,149.02 L679.33,148.22 L679.70,147.43 L680.07,146.64 L680.45,145.87 L680.83,145.10 L681.21,144.34 L681.60,143.59 L681.99,142.85 L682.38,142.11 L682.78,141.39 L683.19,140.66 L683.60,139.95 L684.01,139.25 L684.43,138.55 L684.85,137.86 L685.27,137.17 L685.70,136.49 L686.14,135.82 L686.58,135.16 L687.02,134.50 L687.47,133.85 L687.92,133.21 L688.38,132.57 L688.85,131.94 L689.31,131.32 L689.79,130.70 L690.26,130.09 L690.75,129.49 L691.24,128.89 L691.73,128.30 L692.23,127.71 L692.73,127.13 L693.24,126.55 L693.75,125.99 L694.27,125.42 L694.80,124.87 L695.33,124.32 L695.87,123.77 L696.41,123.23 L696.96,122.70 L697.51,122.17 L698.07,121.65 L698.64,121.13 L699.21,120.62 L699.78,120.11 L700.37,119.61 L700.96,119.11 L701.55,118.62 L702.16,118.13 L702.76,117.65 L703.38,117.18 L704.00,116.70 L704.63,116.24 L705.26,115.78 L705.90,115.32 L706.55,114.87 L707.21,114.42 L707.87,113.98 L708.54,113.54 L709.21,113.10 L709.90,112.67 L710.59,112.25 L711.28,111.83 L711.99,111.41 L712.70,111.00 L713.42,110.59 L714.15,110.19 L714.88,109.79 L715.63,109.39 L716.38,109.00 L717.14,108.62 L717.90,108.23 L718.68,107.85 L719.46,107.48 L720.25,107.11 L721.05,106.74 L721.86,106.38 L722.68,106.02 L723.50,105.66 L724.34,105.31 L725.18,104.96 L726.03,104.61 L726.89,104.27 L727.76,103.93 L728.64,103.60 L729.53,103.27 L730.42,102.94 L731.33,102.62 L732.25,102.29 L733.17,101.98 L734.11,101.66 L735.05,101.35 L736.01,101.04 L736.98,100.74 L737.95,100.44 L738.94,100.14 L739.94,99.84 L740.94,99.55 L741.96,99.26 L742.99,98.98 L744.03,98.69 L745.08,98.41 L746.14,98.14 L747.21,97.86 L748.30,97.59 L749.39,97.32 L750.50,97.05 L751.62,96.79 L752.75,96.53 L753.89,96.27 L755.05,96.02 L756.21,95.77 L757.39,95.52 L758.58,95.27 L759.79,95.02 L761.01,94.78 L762.24,94.54 L763.48,94.30 L764.73,94.07 L766.00,93.84 L767.29,93.61 L768.58,93.38 L769.89,93.15 L771.21,92.93 L772.55,92.71 L773.90,92.49 L775.27,92.28 L776.65,92.06 L778.04,91.85 L779.45,91.64 L780.88,91.44 L782.32,91.23 L783.77,91.03 L785.24,90.83 L786.73,90.63 L788.23,90.43 L789.75,90.24 L791.28,90.05 L792.83,89.85 L794.39,89.67 L795.97,89.48 L797.57,89.30 L799.19,89.11 L800.82,88.93 L802.47,88.75 L804.14,88.58 L805.82,88.40 L807.53,88.23 L809.25,88.06 L810.99,87.89 L812.74,87.72 L814.52,87.55 L816.31,87.39 L818.13,87.22 L819.96,87.06 L821.81,86.90 L823.68,86.75 L825.57,86.59 L827.49,86.43 L829.42,86.28 L831.37,86.13 L833.34,85.98 L835.33,85.83 L837.35,85.69 L839.38,85.54 L841.44,85.40 L843.52,85.26 L845.62,85.11 L847.74,84.98 L849.89,84.84 L852.06,84.70 L854.25,84.57 L856.46,84.43 L858.70,84.30 L860.96,84.17 L863.24,84.04 L865.55,83.91 L867.88,83.79 L870.24,83.66 L872.62,83.54 L875.03,83.41 L877.47,83.29 L879.92,83.17 L882.41,83.05 L884.92,82.94 L887.46,82.82 L890.02,82.70 L892.61,82.59 L895.23,82.48 L897.88,82.36 L900.55,82.25 L903.26,82.14 L905.99,82.04 L908.75,81.93 L911.54,81.82 L914.35,81.72 L917.20,81.61 L920.08,81.51 L922.99,81.41 L925.93,81.31 L928.90,81.21 L931.90,81.11 L934.93,81.01 L938.00,80.92 L941.10,80.82 L944.23,80.73 L947.39,80.63 L950.59,80.54 L953.82,80.45 L957.08,80.36 L960.38,80.27 L963.72,80.18 L967.09,80.09 L970.49,80.01 L973.93,79.92 L977.41,79.84 L980.92,79.75 L984.47,79.67 L988.06,79.59 L991.69,79.50 L995.35,79.42 L999.05,79.34 L1002.80,79.26 L1006.58,79.19 L1010.40,79.11 L1014.26,79.03 L1018.16,78.96 L1022.11,78.88 L1026.09,78.81 L1030.12,78.73 L1034.19,78.66 L1038.30,78.59 L1042.46,78.52 L1046.66,78.45 L1050.91,78.38 L1055.19,78.31 L1059.53,78.24 L1063.91,78.17 L1068.34,78.11 L1072.81,78.04" fill="none" stroke="#0000ff" stroke-width="2.0" stroke-linejoin="round"/>
<path d="M651.64,344.51 L651.71,343.60 L651.79,342.69 L651.86,341.79 L651.94,340.88 L652.02,339.98 L652.10,339.07 L652.18,338.17 L652.26,337.26 L652.34,336.36 L652.42,335.45 L652.50,334.55 L652.59,333.64 L652.67,332.73 L652.76,331.83 L652.84,330.92 L652.93,330.02 L653.02,329.11 L653.11,328.21 L653.20,327.30 L653.29,326.40 L653.38,325.49 L653.47,324.59 L653.57,323.68 L653.66,322.77 L653.76,321.87 L653.85,320.96 L653.95,320.06 L654.05,319.15 L654.15,318.25 L654.25,317.34 L654.35,316.44 L654.46,315.53 L654.56,314.63 L654.67,313.72 L654.77,312.81 L654.88,311.91 L654.99,311.00 L655.10,310.10 L655.21,309.19 L655.32,308.29 L655.43,307.38 L655.55,306.48 L655.66,305.57 L655.78,304.67 L655.90,303.76 L656.02,302.85 L656.14,301.95 L656.26,301.04 L656.38,300.14 L656.51,299.23 L656.63,298.33 L656.76,297.42 L656.89,296.52 L657.02,295.61 L657.15,294.71 L657.28,293.80 L657.41,292.89 L657.55,291.99 L657.68,291.08 L657.82,290.18 L657.96,289.27 L658.10,288.37 L658.24,287.46 L658.39,286.56 L658.53,285.65 L658.68,284.75 L658.83,283.84 L658.98,282.93 L659.13,282.03 L659.28,281.12 L659.43,280.22 L659.59,279.31 L659.75,278.41 L659.91,277.50 L660.07,276.60 L660.23,275.69 L660.40,274.79 L660.56,273.88 L660.73,272.97 L660.90,272.07 L661.07,271.16 L661.24,270.26 L661.42,269.35 L661.60,268.45 L661.78,267.54 L661.96,266.64 L662.14,265.73 L662.32,264.83 L662.51,263.92 L662.70,263.01 L662.89,262.11 L663.08,261.20 L663.27,260.30 L663.47,259.39 L663.67,258.49 L663.87,257.58 L664.07,256.68 L664.28,255.77 L664.48,254.87 L664.69,253.96 L664.90,253.05 L665.11,252.15 L665.33,251.24 L665.55,250.34 L665.77,249.43 L665.99,248.53 L666.22,247.62 L666.44,246.72 L666.67,245.81 L666.90,244.91 L667.14,244.00 L667.37,243.09 L667.61,242.19 L667.85,241.28 L668.10,240.38 L668.35,239.47 L668.59,238.57 L668.85,237.66 L669.10,236.76 L669.36,235.85 L669.62,234.95 L669.88,234.04 L670.15,233.13 L670.41,232.23 L670.68,231.32 L670.96,230.42 L671.23,229.51 L671.51,228.61 L671.80,227.70 L672.08,226.80 L672.37,225.89 L672.66,224.98 L672.96,224.08 L673.25,223.17 L673.55,222.27 L673.86,221.36 L674.16,220.46 L674.47,219.55 L674.79,218.65 L675.10,217.74 L675.42,216.84 L675.75,215.93 L676.07,215.02 L676.40,214.12 L676.74,213.21 L677.07,212.31 L677.41,211.40 L677.76,210.50 L678.11,209.59 L678.46,208.69 L678.81,207.78 L679.17,206.88 L679.53,205.97 L679.90,205.06 L680.27,204.16 L680.64,203.25 L681.02,202.35 L681.40,201.44 L681.79,200.54 L682.18,199.63 L682.57,198.73 L682.97,197.82 L683.37,196.92 L683.78,196.01 L684.19,195.10 L684.60,194.20 L685.02,193.29 L685.45,192.39 L685.87,191.48 L686.31,190.58 L686.74,189.67 L687.18,188.77 L687.63,187.86 L688.08,186.96 L688.54,186.05 L689.00,185.14 L689.46,184.24 L689.93,183.33 L690.41,182.43 L690.89,181.52 L691.37,180.62 L691.86,179.71 L692.36,178.81 L692.86,177.90 L693.36,177.00 L693.87,176.09 L694.39,175.18 L694.91,174.28 L695.44,173.37 L695.97,172.47 L696.51,171.56 L697.05,170.66 L697.60,169.75 L698.15,168.85 L698.72,167.94 L699.28,167.04 L699.85,166.13 L700.43,165.22 L701.02,164.32 L701.61,163.41 L702.20,162.51 L702.81,161.60 L703.42,160.70 L704.03,159.79 L704.66,158.89 L705.28,157.98 L705.92,157.08 L706.56,156.17 L707.21,155.26 L707.87,154.36 L708.53,153.45 L709.20,152.55 L709.87,151.64 L710.56,150.74 L711.25,149.83 L711.94,148.93 L712.65,148.02 L713.36,147.12 L714.08,146.21 L714.81,145.30 L715.54,144.40 L716.29,143.49 L717.04,142.59 L717.79,141.68 L718.56,140.78 L719.33,139.87 L720.12,138.97 L720.91,138.06 L721.70,137.16 L722.51,136.25 L723.33,135.34 L724.15,134.44 L724.98,133.53 L725.82,132.63 L726.67,131.72 L727.53,130.82 L728.40,129.91 L729.28,129.01 L730.16,128.10 L731.06,127.20 L731.96,126.29 L732.88,125.38 L733.80,124.48 L734.74,123.57 L735.68,122.67 L736.63,121.76 L737.59,120.86 L738.57,119.95 L739.55,119.05 L740.54,118.14 L741.55,117.24 L742.56,116.33 L743.59,115.42 L744.62,114.52 L745.67,113.61 L746.73,112.71 L747.79,111.80 L748.87,110.90 L749.97,109.99 L751.07,109.09 L752.18,108.18 L753.31,107.28 L754.44,106.37 L755.59,105.46 L756.75,104.56 L757.93,103.65 L759.11,102.75 L760.31,101.84 L761.52,100.94 L762.74,100.03 L763.98,99.13 L765.23,98.22 L766.49,97.32 L767.77,96.41 L769.05,95.50 L770.36,94.60 L771.67,93.69 L773.00,92.79 L774.34,91.88 L775.70,90.98 L777.07,90.07 L778.46,89.17 L779.86,88.26 L781.27,87.36 L782.70,86.45 L784.15,85.54 L785.60,84.64 L787.08,83.73 L788.57,82.83 L790.08,81.92 L791.60,81.02 L793.13,80.11 L794.69,79.21 L796.26,78.30 L797.84,77.39 L799.45,76.49 L801.07,75.58 L802.70,74.68 L804.36,73.77 L806.03,72.87 L807.71,71.96 L809.42,71.06 L811.14,70.15 L812.89,69.25 L814.65,68.34 L816.42,67.43 L818.22,66.53 L820.04,65.62 L821.87,64.72 L823.72,63.81 L825.60,62.91 L827.49,62.00 L829.40,61.10 L831.34,60.19 L833.29,59.29 L835.26,58.38 L837.25,57.47 L839.27,56.57 L841.30,55.66 L843.36,54.76 L845.44,53.85 L847.54,52.95 L849.66,52.04 L851.81,51.14 L853.97,50.23 L856.16,49.33 L858.37,48.42 L860.61,47.51 L862.87,46.61 L865.15,45.70 L867.46,44.80 L869.79,43.89 L872.14,42.99 L874.52,42.08 L876.92,41.18 L879.35,40.27 L881.81,39.37 L884.29,38.46 L886.80,37.55 L889.33,36.65 L891.89,35.74 L894.47,34.84 L897.08,33.93 L899.72,33.03 L902.39,32.12 L905.09,31.22 L907.81,30.31 L910.56,29.41 L913.34,28.50 L916.15,27.59 L918.99,26.69 L921.86,25.78 L924.76,24.88 L927.69,23.97 L930.65,23.07 L933.64,22.16 L936.66,21.26 L939.71,20.35 L942.80,19.45 L945.92,18.54 L949.07,17.63 L952.25,16.73 L955.47,15.82 L958.72,14.92 L962.00,14.01 L965.32,13.11 L968.67,12.20 L972.06,11.30 L975.48,10.39 L978.94,9.49 L982.44,8.58 L985.97,7.67 L989.54,6.77 L993.15,5.86 L996.79,4.96 L1000.47,4.05 L1004.19,3.15 L1007.95,2.24 L1011.75,1.34 L1015.59,0.43 L1019.47,-0.47 L1023.39,-1.38 L1027.35,-2.29 L1031.35,-3.19 L1035.39,-4.10 L1039.48,-5.00 L1043.60,-5.91 L1047.78,-6.81 L1051.99,-7.72 L1056.25,-8.62 L1060.55,-9.53 L1064.90,-10.43 L1069.29,-11.34 L1073.73,-12.25 L1078.22,-13.15 L1082.75,-14.06 L1087.33,-14.96 L1091.96,-15.87 L1096.64,-16.77 L1101.36,-17.68" fill="none" stroke="#808000" stroke-width="2.05" stroke-linejoin="round"/>
<path d="M651.64,278.93 L651.71,278.68 L651.79,278.42 L651.86,278.16 L651.94,277.90 L652.02,277.64 L652.10,277.38 L652.18,277.12 L652.26,276.85 L652.34,276.58 L652.42,276.32 L652.50,276.05 L652.59,275.78 L652.67,275.50 L652.76,275.23 L652.84,274.96 L652.93,274.68 L653.02,274.40 L653.11,274.12 L653.20,273.84 L653.29,273.56 L653.38,273.28 L653.47,272.99 L653.57,272.71 L653.66,272.42 L653.76,272.13 L653.85,271.84 L653.95,271.54 L654.05,271.25 L654.15,270.95 L654.25,270.66 L654.35,270.36 L654.46,270.06 L654.56,269.76 L654.67,269.45 L654.77,269.15 L654.88,268.84 L654.99,268.53 L655.10,268.22 L655.21,267.91 L655.32,267.60 L655.43,267.29 L655.55,266.97 L655.66,266.65 L655.78,266.33 L655.90,266.01 L656.02,265.69 L656.14,265.36 L656.26,265.04 L656.38,264.71 L656.51,264.38 L656.63,264.05 L656.76,263.71 L656.89,263.38 L657.02,263.04 L657.15,262.71 L657.28,262.37 L657.41,262.02 L657.55,261.68 L657.68,261.33 L657.82,260.99 L657.96,260.64 L658.10,260.29 L658.24,259.93 L658.39,259.58 L658.53,259.22 L658.68,258.86 L658.83,258.50 L658.98,258.14 L659.13,257.78 L659.28,257.41 L659.43,257.05 L659.59,256.68 L659.75,256.30 L659.91,255.93 L660.07,255.56 L660.23,255.18 L660.40,254.80 L660.56,254.42 L660.73,254.03 L660.90,253.65 L661.07,253.26 L661.24,252.87 L661.42,252.48 L661.60,252.09 L661.78,251.69 L661.96,251.29 L662.14,250.90 L662.32,250.49 L662.51,250.09 L662.70,249.68 L662.89,249.28 L663.08,248.87 L663.27,248.45 L663.47,248.04 L663.67,247.62 L663.87,247.20 L664.07,246.78 L664.28,246.36 L664.48,245.93 L664.69,245.51 L664.90,245.08 L665.11,244.65 L665.33,244.21 L665.55,243.77 L665.77,243.34 L665.99,242.89 L666.22,242.45 L666.44,242.01 L666.67,241.56 L666.90,241.11 L667.14,240.65 L667.37,240.20 L667.61,239.74 L667.85,239.28 L668.10,238.82 L668.35,238.36 L668.59,237.89 L668.85,237.42 L669.10,236.95 L669.36,236.47 L669.62,236.00 L669.88,235.52 L670.15,235.04 L670.41,234.55 L670.68,234.06 L670.96,233.57 L671.23,233.08 L671.51,232.59 L671.80,232.09 L672.08,231.59 L672.37,231.09 L672.66,230.58 L672.96,230.08 L673.25,229.57 L673.55,229.05 L673.86,228.54 L674.16,228.02 L674.47,227.50 L674.79,226.98 L675.10,226.45 L675.42,225.92 L675.75,225.39 L676.07,224.85 L676.40,224.32 L676.74,223.78 L677.07,223.23 L677.41,222.69 L677.76,222.14 L678.11,221.59 L678.46,221.03 L678.81,220.48 L679.17,219.92 L679.53,219.35 L679.90,218.79 L680.27,218.22 L680.64,217.64 L681.02,217.07 L681.40,216.49 L681.79,215.91 L682.18,215.33 L682.57,214.74 L682.97,214.15 L683.37,213.56 L683.78,212.96 L684.19,212.36 L684.60,211.76 L685.02,211.15 L685.45,210.54 L685.87,209.93 L686.31,209.32 L686.74,208.70 L687.18,208.08 L687.63,207.45 L688.08,206.82 L688.54,206.19 L689.00,205.56 L689.46,204.92 L689.93,204.28 L690.41,203.63 L690.89,202.99 L691.37,202.33 L691.86,201.68 L692.36,201.02 L692.86,200.36 L693.36,199.70 L693.87,199.03 L694.39,198.35 L694.91,197.68 L695.44,197.00 L695.97,196.32 L696.51,195.63 L697.05,194.94 L697.60,194.25 L698.15,193.55 L698.72,192.85 L699.28,192.15 L699.85,191.44 L700.43,190.73 L701.02,190.01 L701.61,189.29 L702.20,188.57 L702.81,187.84 L703.42,187.11 L704.03,186.38 L704.66,185.64 L705.28,184.90 L705.92,184.15 L706.56,183.40 L707.21,182.65 L707.87,181.89 L708.53,181.13 L709.20,180.37 L709.87,179.60 L710.56,178.82 L711.25,178.05 L711.94,177.27 L712.65,176.48 L713.36,175.69 L714.08,174.90 L714.81,174.10 L715.54,173.30 L716.29,172.49 L717.04,171.68 L717.79,170.87 L718.56,170.05 L719.33,169.23 L720.12,168.40 L720.91,167.57 L721.70,166.73 L722.51,165.89 L723.33,165.05 L724.15,164.20 L724.98,163.34 L725.82,162.48 L726.67,161.62 L727.53,160.75 L728.40,159.88 L729.28,159.01 L730.16,158.13 L731.06,157.24 L731.96,156.35 L732.88,155.46 L733.80,154.56 L734.74,153.65 L735.68,152.75 L736.63,151.83 L737.59,150.91 L738.57,149.99 L739.55,149.06 L740.54,148.13 L741.55,147.19 L742.56,146.25 L743.59,145.31 L744.62,144.35 L745.67,143.40 L746.73,142.43 L747.79,141.47 L748.87,140.50 L749.97,139.52 L751.07,138.54 L752.18,137.55 L753.31,136.56 L754.44,135.56 L755.59,134.56 L756.75,133.55 L757.93,132.54 L759.11,131.52 L760.31,130.49 L761.52,129.46 L762.74,128.43 L763.98,127.39 L765.23,126.34 L766.49,125.29 L767.77,124.24 L769.05,123.17 L770.36,122.11 L771.67,121.03 L773.00,119.96 L774.34,118.87 L775.70,117.78 L777.07,116.69 L778.46,115.59 L779.86,114.48 L781.27,113.37 L782.70,112.25 L784.15,111.12 L785.60,109.99 L787.08,108.86 L788.57,107.71 L790.08,106.57 L791.60,105.41 L793.13,104.25 L794.69,103.09 L796.26,101.91 L797.84,100.74 L799.45,99.55 L801.07,98.36 L802.70,97.17 L804.36,95.96 L806.03,94.75 L807.71,93.54 L809.42,92.32 L811.14,91.09 L812.89,89.85 L814.65,88.61 L816.42,87.36 L818.22,86.11 L820.04,84.85 L821.87,83.58 L823.72,82.31 L825.60,81.03 L827.49,79.74 L829.40,78.45 L831.34,77.15 L833.29,75.84 L835.26,74.53 L837.25,73.21 L839.27,71.88 L841.30,70.54 L843.36,69.20 L845.44,67.85 L847.54,66.50 L849.66,65.13 L851.81,63.76 L853.97,62.39 L856.16,61.00 L858.37,59.61 L860.61,58.21 L862.87,56.81 L865.15,55.39 L867.46,53.97 L869.79,52.54 L872.14,51.11 L874.52,49.67 L876.92,48.22 L879.35,46.76 L881.81,45.29 L884.29,43.82 L886.80,42.34 L889.33,40.85 L891.89,39.35 L894.47,37.85 L897.08,36.34 L899.72,34.82 L902.39,33.29 L905.09,31.75 L907.81,30.21 L910.56,28.66 L913.34,27.10 L916.15,25.53 L918.99,23.95 L921.86,22.37 L924.76,20.78 L927.69,19.17 L930.65,17.56 L933.64,15.95 L936.66,14.32 L939.71,12.69 L942.80,11.04 L945.92,9.39 L949.07,7.73 L952.25,6.06 L955.47,4.38 L958.72,2.70 L962.00,1.00 L965.32,-0.70 L968.67,-2.42 L972.06,-4.14 L975.48,-5.87 L978.94,-7.61 L982.44,-9.36 L985.97,-11.12 L989.54,-12.88 L993.15,-14.66 L996.79,-16.44 L1000.47,-18.24 L1004.19,-20.04 L1007.95,-21.86 L1011.75,-23.68 L1015.59,-25.51 L1019.47,-27.36 L1023.39,-29.21 L1027.35,-31.07 L1031.35,-32.94 L1035.39,-34.82 L1039.48,-36.71 L1043.60,-38.61 L1047.78,-40.52 L1051.99,-42.45 L1056.25,-44.38 L1060.55,-46.32 L1064.90,-48.27 L1069.29,-50.23 L1073.73,-52.20 L1078.22,-54.18 L1082.75,-56.17 L1087.33,-58.17 L1091.96,-60.19 L1096.64,-62.21 L1101.36,-64.24" fill="none" stroke="#00ff00" stroke-width="2.0" stroke-linejoin="round"/>
</g>
<g clip-path="url(#lclipb)">
<circle cx="939.60" cy="295.20" r="3.8" fill="#fff" stroke="#000" stroke-width="1.0"/><path d="M939.60,291.40 A3.8,3.8 0 0 0 939.60,299.00 Z" fill="#000"/>
<text transform="translate(960.10,299.60) scale(1,1.06)" font-size="13.95" font-weight="bold">Experimental Data</text>
<line x1="924" y1="312.30" x2="956.1" y2="312.30" stroke="#ff0000" stroke-width="3"/>
<text transform="translate(960.10,316.70) scale(1,1.06)" font-size="13.95" font-weight="bold">Pseudo-First Order</text>
<line x1="924" y1="329.40" x2="956.1" y2="329.40" stroke="#0000ff" stroke-width="3"/>
<text transform="translate(960.10,333.80) scale(1,1.06)" font-size="13.95" font-weight="bold">Pseudo-Second Order</text>
<line x1="924" y1="346.50" x2="956.1" y2="346.50" stroke="#808000" stroke-width="3"/>
<text transform="translate(960.10,350.90) scale(1,1.06)" font-size="13.95" font-weight="bold">Elovich</text>
<line x1="924" y1="363.30" x2="956.1" y2="363.30" stroke="#00ff00" stroke-width="3"/>
<text transform="translate(960.10,367.70) scale(1,1.06)" font-size="13.95" font-weight="bold">Weber Morris</text>
</g>
<text transform="translate(650.00,30.20) scale(1,1.03)" font-size="15.6" font-weight="bold">(b) MAG-OSBC</text>
<text transform="translate(876.50,425.30) scale(1,1.04)" font-size="19.3" font-weight="bold" text-anchor="middle">Time (min)</text>
<text transform="translate(592.7,193.95) rotate(-90) scale(1,0.96)" font-size="19.05" font-weight="bold" text-anchor="middle">q<tspan font-size="14.29" dy="5.8">t</tspan><tspan dy="-5.8"> (mg/g)</tspan></text>
</svg>
</body></html>
